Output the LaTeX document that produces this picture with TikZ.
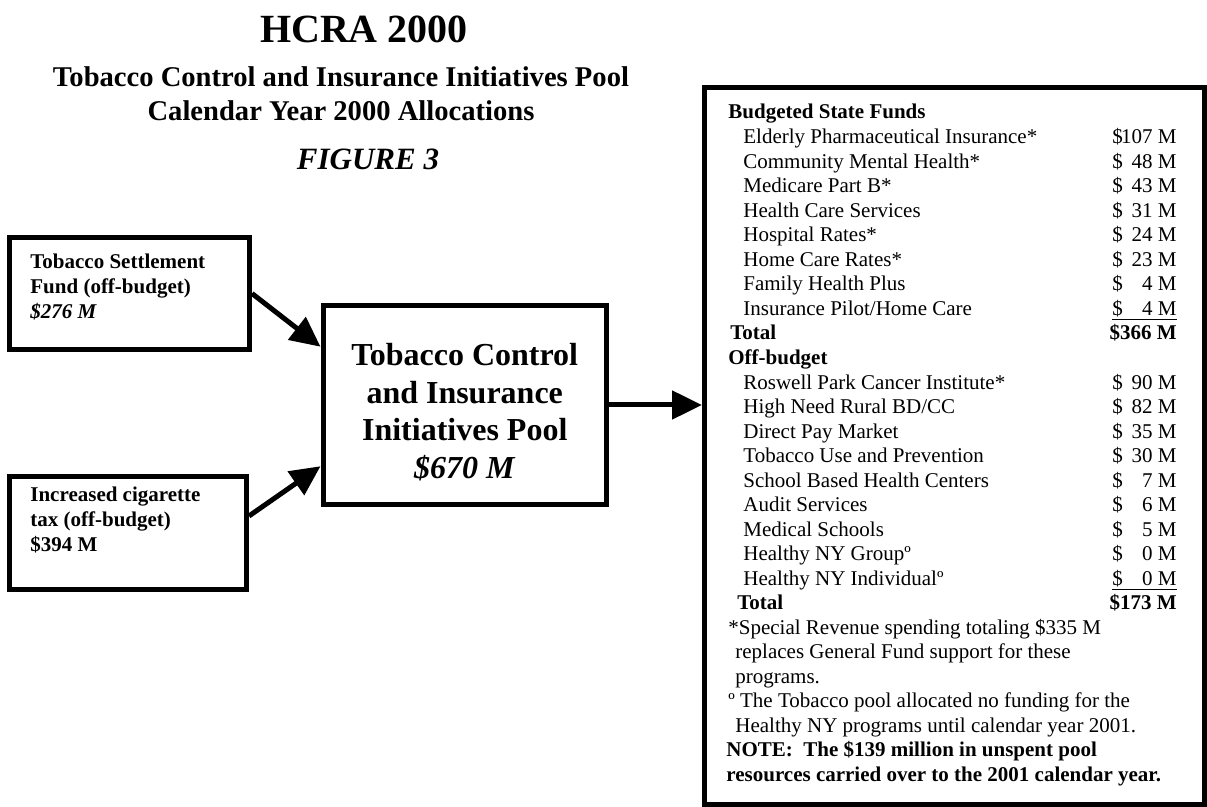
\documentclass[tikz,border=0pt]{standalone}
\usepackage{fontspec}
\setmainfont{Liberation Serif}
\usetikzlibrary{arrows.meta}
\begin{document}
\begin{tikzpicture}[x=0.5pt,y=-0.5pt,>={Triangle[length=15pt,width=14pt]}]
\tikzset{box/.style={draw,line width=2.5pt,inner sep=0pt},
  flow/.style={->,line width=2.5pt},
  tab/.style={inner sep=0pt,font=\fontsize{10.5}{12.27}\selectfont},
  tabb/.style={inner sep=0pt,font=\bfseries\fontsize{10.5}{12.27}\selectfont},
  src/.style={inner sep=0pt,anchor=north west,align=left,font=\bfseries\fontsize{10.5}{12.5}\selectfont}}
\useasboundingbox (0,0) rectangle (1207,807);
\node[anchor=base,font=\bfseries\fontsize{20}{24}\selectfont] (hcra) at (364,43) {HCRA 2000};
\node[anchor=base,font=\bfseries\fontsize{14.3}{17}\selectfont] (sub1) at (341,87) {Tobacco Control and Insurance Initiatives Pool};
\node[anchor=base,font=\bfseries\fontsize{14.3}{17}\selectfont] (sub2) at (341,121) {Calendar Year 2000 Allocations};
\node[anchor=base,font=\bfseries\itshape\fontsize{15.5}{18}\selectfont] (fig) at (368,170) {FIGURE 3};
\node[box,minimum width=120pt,minimum height=56pt] (settle) at (129.5,293.5) {};
\node[src] (settletxt) at (30,254) {Tobacco Settlement\\Fund (off-budget)\\\textit{\$276 M}};
\node[box,minimum width=118.5pt,minimum height=56.5pt] (cig) at (128,533) {};
\node[src] (cigtxt) at (30,487) {Increased cigarette\\tax (off-budget)\\\$394 M};
\node[box,minimum width=141.75pt,minimum height=99.5pt] (pool) at (464.75,405) {};
\node[inner sep=0pt,align=center,font=\bfseries\fontsize{16}{18.75}\selectfont] (pooltxt) at (464.75,412) {Tobacco Control\\and Insurance\\Initiatives Pool\\\textit{\$670 M}};
\node[box,minimum width=249.75pt,minimum height=358.25pt] (alloc) at (954.25,446.25) {};
\draw[flow] (settle.east) -- (pool.158);
\draw[flow] (cig.8) -- (pool.203);
\draw[flow] (pool.east) -- (pool.east -| alloc.west);
\node[tabb,anchor=base west] (hd1) at (728,119) {Budgeted State Funds};
\foreach \i/\lbl/\val in {1/Elderly Pharmaceutical Insurance*/107,2/Community Mental Health*/48,3/Medicare Part B*/43,4/Health Care Services/31,5/Hospital Rates*/24,6/Home Care Rates*/23,7/Family Health Plus/4,8/{Insurance Pilot/Home Care}/4,11/Roswell Park Cancer Institute*/90,12/{High Need Rural BD/CC}/82,13/Direct Pay Market/35,14/Tobacco Use and Prevention/30,15/School Based Health Centers/7,16/Audit Services/6,17/Medical Schools/5,18/Healthy NY Groupº/0,19/Healthy NY Individualº/0}
{\node[tab,anchor=base west] (item\i) at (743,{119+24.55*\i}) {\lbl};
 \node[tab,anchor=base west] (usd\i) at (1112,{119+24.55*\i}) {\$};
 \node[tab,anchor=base east] (val\i) at (1177,{119+24.55*\i}) {\val~M};}
\draw[line width=0.75pt] ([yshift=-2pt]usd8.base west) -- ([yshift=-2pt]val8.base east);
\draw[line width=0.75pt] ([yshift=-2pt]usd19.base west) -- ([yshift=-2pt]val19.base east);
\node[tabb,anchor=base west] (tot1) at (730,340) {Total};
\node[tabb,anchor=base east] (sum1) at (1177,340) {\$366 M};
\node[tabb,anchor=base west] (hd2) at (728,364.5) {Off-budget};
\node[tabb,anchor=base west] (tot2) at (737,610) {Total};
\node[tabb,anchor=base east] (sum2) at (1177,610) {\$173 M};
\node[tab,anchor=base west] (note1) at (728,634.5) {*Special Revenue spending totaling \$335 M};
\node[tab,anchor=base west] (note2) at (735,659) {replaces General Fund support for these};
\node[tab,anchor=base west] (note3) at (735,683.5) {programs.};
\node[tab,anchor=base west] (note4) at (728,708) {º The Tobacco pool allocated no funding for the};
\node[tab,anchor=base west] (note5) at (735,732.5) {Healthy NY programs until calendar year 2001.};
\node[tabb,anchor=base west] (note6) at (726,757) {NOTE:\ \ The \$139 million in unspent pool};
\node[tabb,anchor=base west] (note7) at (726,782) {resources carried over to the 2001 calendar year.};
\end{tikzpicture}
\end{document}
